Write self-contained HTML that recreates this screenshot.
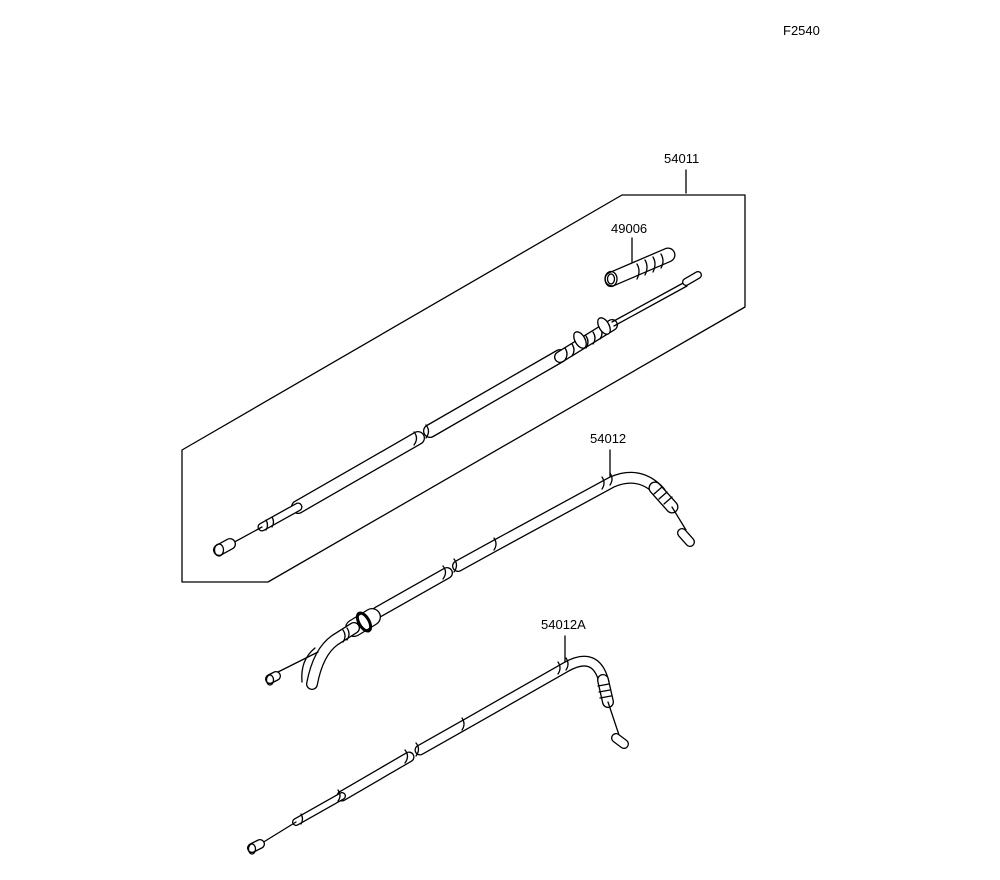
<!DOCTYPE html>
<html><head><meta charset="utf-8"><style>
html,body{margin:0;padding:0;background:#fff;}
svg{display:block;}
text{font-family:"Liberation Sans",sans-serif;font-size:13px;fill:#000;}
</style></head><body>
<svg width="1000" height="880" viewBox="0 0 1000 880" xmlns="http://www.w3.org/2000/svg" fill="none" stroke="#000" stroke-width="1.3" stroke-linecap="round" stroke-linejoin="round">
<text x="783" y="35" stroke="none">F2540</text>
<text x="664" y="163" stroke="none">54011</text>
<text x="611" y="233" stroke="none">49006</text>
<text x="590" y="443" stroke="none">54012</text>
<text x="541" y="629" stroke="none">54012A</text>
<!-- box -->
<polyline points="686,170 686,193"/>
<polygon points="622,195 745,195 745,307 268,582 182,582 182,450"/>
<line x1="632" y1="238" x2="632" y2="262"/>
<!-- 49006 grip -->
<g stroke-width="15" stroke="#000"><line x1="612" y1="279" x2="668" y2="255"/></g>
<g stroke-width="12.4" stroke="#fff"><line x1="612" y1="279" x2="668" y2="255"/></g>
<ellipse cx="611" cy="279" rx="6" ry="7.5"/>
<ellipse cx="611" cy="279" rx="3.5" ry="5"/>
<path d="M637 264 q4 7 0 15 M645 260 q4 7 0 15 M653 257 q4 7 0 15 M661 254 q4 7 0 14"/>
<!-- cable 1 -->
<g stroke="#000" stroke-width="14"><line x1="298" y1="507" x2="418" y2="438"/><line x1="430" y1="431" x2="560" y2="356"/></g>
<g stroke="#fff" stroke-width="11.4"><line x1="298" y1="507" x2="418" y2="438"/><line x1="430" y1="431" x2="560" y2="356"/></g>
<path d="M414 432 q5 6 0 13 M426 425 q5 6 0 13"/>
<g stroke="#000" stroke-width="12"><line x1="560" y1="357" x2="612" y2="325"/></g>
<g stroke="#fff" stroke-width="9.4"><line x1="560" y1="357" x2="612" y2="325"/></g>
<path d="M565 348 q4 6 0 12 M572 344 q4 6 0 12 M586 336 q4 6 0 12 M593 332 q4 6 0 12 M600 327 q4 6 0 12"/>
<ellipse cx="580" cy="340" rx="5" ry="9" transform="rotate(-30 580 340)" fill="#fff"/>
<ellipse cx="604" cy="326" rx="5" ry="9" transform="rotate(-30 604 326)" fill="#fff"/>
<line x1="612" y1="322" x2="685" y2="282"/>
<line x1="614" y1="326" x2="687" y2="286"/>
<g stroke="#000" stroke-width="8"><line x1="686" y1="282" x2="698" y2="275"/></g>
<g stroke="#fff" stroke-width="5.4"><line x1="686" y1="282" x2="698" y2="275"/></g>
<g stroke="#000" stroke-width="9"><line x1="262" y1="527" x2="298" y2="507"/></g>
<g stroke="#fff" stroke-width="6.4"><line x1="262" y1="527" x2="298" y2="507"/></g>
<path d="M266 520 q3 5 0 10 M272 517 q3 5 0 10"/>
<line x1="229" y1="545" x2="262" y2="527"/>
<g stroke="#000" stroke-width="12"><line x1="219" y1="550" x2="230" y2="544"/></g>
<g stroke="#fff" stroke-width="9.4"><line x1="219" y1="550" x2="230" y2="544"/></g>
<ellipse cx="219" cy="550" rx="4.5" ry="6"/>
<!-- cable 2 -->
<line x1="610" y1="450" x2="610" y2="482"/>
<g stroke="#000" stroke-width="12"><path d="M378 612 L447 573 M458 566 L498 544 L612 482 Q640 470 660 492"/></g>
<g stroke="#fff" stroke-width="9.4"><path d="M378 612 L447 573 M458 566 L498 544 L612 482 Q640 470 660 492"/></g>
<path d="M443 566 q5 6 0 13 M454 559 q5 6 0 13 M494 538 q4 6 0 12 M602 477 q4 6 0 12 M610 473 q4 6 0 12"/>
<g stroke="#000" stroke-width="13"><line x1="655" y1="488" x2="672" y2="507"/></g>
<g stroke="#fff" stroke-width="10.4"><line x1="655" y1="488" x2="672" y2="507"/></g>
<path d="M654 494 l8 -7 M659 499 l8 -7 M664 504 l8 -7"/>
<line x1="672" y1="507" x2="686" y2="530"/>
<g stroke="#000" stroke-width="10"><line x1="682" y1="533" x2="690" y2="542"/></g>
<g stroke="#fff" stroke-width="7.4"><line x1="682" y1="533" x2="690" y2="542"/></g>
<!-- lower end cable 2 -->
<g stroke="#000" stroke-width="18"><line x1="354" y1="628" x2="372" y2="617"/></g>
<g stroke="#fff" stroke-width="15.4"><line x1="354" y1="628" x2="372" y2="617"/></g>
<ellipse cx="364" cy="622" rx="5" ry="10" transform="rotate(-30 364 622)" stroke-width="3"/>
<g stroke="#000" stroke-width="12"><path d="M354 628 L335 640 Q318 652 312 684"/></g>
<g stroke="#fff" stroke-width="9.4"><path d="M354 628 L335 640 Q318 652 312 684"/></g>
<path d="M343 630 q4 6 0 12 M347 628 q4 6 0 12"/>
<path d="M315 648 Q300 660 302 682 M318 652 L278 672"/>
<g stroke="#000" stroke-width="10"><line x1="270" y1="679" x2="276" y2="676"/></g>
<g stroke="#fff" stroke-width="7.4"><line x1="270" y1="679" x2="276" y2="676"/></g>
<ellipse cx="270" cy="680" rx="3.5" ry="5"/>
<!-- cable 3 -->
<line x1="565" y1="636" x2="565" y2="665"/>
<g stroke="#000" stroke-width="11"><path d="M342 796 L409 757 M420 750 L466 724 L566 667 Q596 650 604 682"/></g>
<g stroke="#fff" stroke-width="8.4"><path d="M342 796 L409 757 M420 750 L466 724 L566 667 Q596 650 604 682"/></g>
<path d="M405 750 q5 6 0 13 M416 743 q5 6 0 13 M462 718 q4 6 0 12 M558 662 q4 6 0 12 M566 658 q4 6 0 12"/>
<g stroke="#000" stroke-width="12"><line x1="603" y1="680" x2="608" y2="702"/></g>
<g stroke="#fff" stroke-width="9.4"><line x1="603" y1="680" x2="608" y2="702"/></g>
<path d="M598 686 l11 -2 M599 692 l11 -2 M600 698 l11 -2"/>
<line x1="608" y1="702" x2="619" y2="735"/>
<g stroke="#000" stroke-width="10"><line x1="616" y1="738" x2="624" y2="744"/></g>
<g stroke="#fff" stroke-width="7.4"><line x1="616" y1="738" x2="624" y2="744"/></g>
<g stroke="#000" stroke-width="8"><line x1="296" y1="822" x2="342" y2="796"/></g>
<g stroke="#fff" stroke-width="5.4"><line x1="296" y1="822" x2="342" y2="796"/></g>
<path d="M338 790 q4 6 0 11 M301 814 q3 5 0 10"/>
<line x1="262" y1="843" x2="296" y2="822"/>
<g stroke="#000" stroke-width="10"><line x1="252" y1="848" x2="260" y2="844"/></g>
<g stroke="#fff" stroke-width="7.4"><line x1="252" y1="848" x2="260" y2="844"/></g>
<ellipse cx="252" cy="849" rx="3.5" ry="5"/>
</svg>
</body></html>
